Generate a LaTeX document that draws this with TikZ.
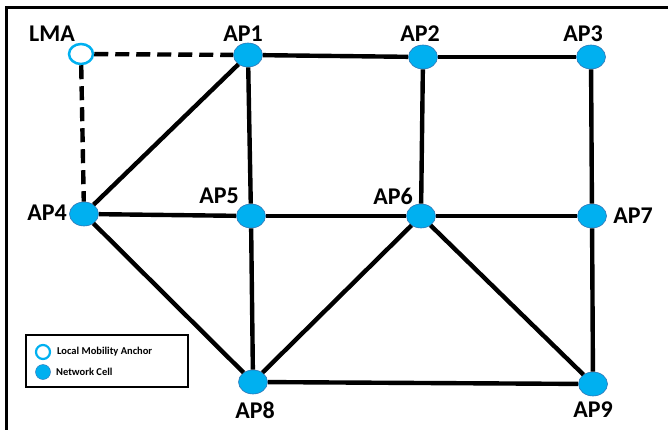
\documentclass[tikz,border=0pt]{standalone}
\usepackage{fontspec}
\setmainfont{Carlito}
\usetikzlibrary{shapes.geometric}
\definecolor{cellblue}{HTML}{00B0F0}
\definecolor{edgeblue}{HTML}{2E75B6}
\begin{document}
\begin{tikzpicture}[x=1pt,y=-1pt,
  cell/.style={ellipse, fill=cellblue, draw=edgeblue, line width=0.6pt, minimum width=29pt, minimum height=24pt, inner sep=0pt},
  lmacell/.style={ellipse, fill=white, draw=cellblue, line width=2.5pt, minimum width=24pt, minimum height=20pt, inner sep=0pt},
  link/.style={line width=4.4pt},
  dlink/.style={line width=4.4pt, dash pattern=on 14pt off 7pt},
  lbl/.style={font=\bfseries\fontsize{24}{24}\selectfont, inner sep=0pt},
  legtext/.style={font=\bfseries\fontsize{10.5}{12}\selectfont, inner sep=0pt, anchor=west},
  frame/.style={line width=3pt}]
\useasboundingbox (0,0) rectangle (668,430);
% frame (top and left)
\coordinate (fa) at (6.5,430);
\coordinate (fb) at (6.5,7.5);
\coordinate (fc) at (668,7.5);
\draw[frame] (fa) -- (fb) -- (fc);
% nodes
\node[lmacell] (LMA) at (81,54) {};
\node[cell] (AP1) at (248,55) {};
\node[cell] (AP2) at (423,57) {};
\node[cell] (AP3) at (591,57) {};
\node[cell] (AP4) at (84,214) {};
\node[cell] (AP5) at (251,216) {};
\node[cell] (AP6) at (421,216) {};
\node[cell] (AP7) at (592,216) {};
\node[cell] (AP8) at (253,382) {};
\node[cell] (AP9) at (593,384) {};
% labels
\node[lbl] (tLMA) at (52,34) {LMA};
\node[lbl] (t1) at (243,34) {AP1};
\node[lbl] (t2) at (420,34) {AP2};
\node[lbl] (t3) at (583,34) {AP3};
\node[lbl] (t4) at (47,213) {AP4};
\node[lbl] (t5) at (219,196) {AP5};
\node[lbl] (t6) at (393,196) {AP6};
\node[lbl] (t7) at (633,216) {AP7};
\node[lbl] (t8) at (255,410) {AP8};
\node[lbl] (t9) at (593,410) {AP9};
% links
\draw[dlink] (LMA) -- (AP1);
\draw[dlink] (LMA) -- (AP4);
\draw[link] (AP1) -- (AP2);
\draw[link] (AP2) -- (AP3);
\draw[link] (AP1) -- (AP4);
\draw[link] (AP1) -- (AP5);
\draw[link] (AP2) -- (AP6);
\draw[link] (AP3) -- (AP7);
\draw[link] (AP4) -- (AP5);
\draw[link] (AP5) -- (AP6);
\draw[link] (AP6) -- (AP7);
\draw[link] (AP4) -- (AP8);
\draw[link] (AP5) -- (AP8);
\draw[link] (AP6) -- (AP8);
\draw[link] (AP6) -- (AP9);
\draw[link] (AP7) -- (AP9);
\draw[link] (AP8) -- (AP9);
% legend
\node[draw, line width=2pt, minimum width=162pt, minimum height=52pt, inner sep=0pt] (legend) at (107,361) {};
\node[ellipse, fill=white, draw=cellblue, line width=2.2pt, minimum width=14pt, minimum height=14pt, inner sep=0pt] (legLMA) at (43,352) {};
\node[ellipse, fill=cellblue, draw=edgeblue, line width=0.4pt, minimum width=15pt, minimum height=15pt, inner sep=0pt] (legCell) at (43,372) {};
\node[legtext] (legLMAt) at (57,352) {Local Mobility Anchor};
\node[legtext] (legCellt) at (56,372) {Network Cell};
\end{tikzpicture}
\end{document}
